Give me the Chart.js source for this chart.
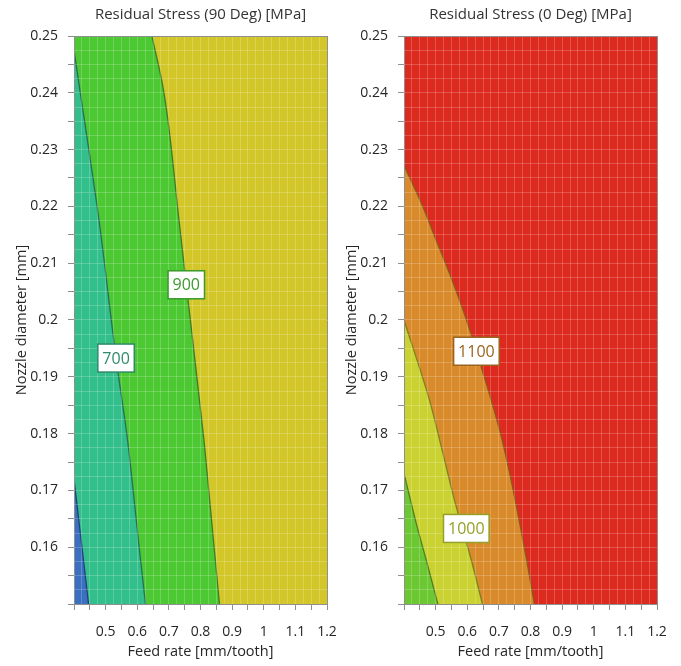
<!DOCTYPE html>
<html>
<head>
<meta charset="utf-8">
<script src="https://cdn.jsdelivr.net/npm/chart.js@4.4.1/dist/chart.umd.min.js"></script>
<style>
    body { margin: 0; background: #fff; }
    #wrap { position: relative; width: 681px; height: 666px; }
    .panel { position: absolute; top: 0; }
    #chart90 { left: 0; }
    #chart0 { left: 330px; }
</style>
</head>
<body>
<div id="wrap">
    <canvas id="chart90" class="panel" width="351" height="666"></canvas>
    <canvas id="chart0" class="panel" width="351" height="666"></canvas>
</div>
<script>
// contour lines: feed rate (x) where the line sits at a given nozzle diameter (y)
// left plot, residual stress 90 deg
const c600Y = [0.15, 0.1577, 0.172];
const c600X = [0.446, 0.430, 0.400];
const c700Y = [0.15, 0.16, 0.17, 0.179, 0.1933, 0.2176, 0.24, 0.2475];
const c700X = [0.626, 0.606, 0.587, 0.569, 0.533, 0.479, 0.420, 0.400];
const c900Y = [0.15, 0.17, 0.1788, 0.2062, 0.2176, 0.24, 0.25];
const c900X = [0.860, 0.826, 0.811, 0.755, 0.732, 0.6845, 0.6465];

// right plot, residual stress 0 deg
const r900Y = [0.15, 0.1577, 0.1642, 0.173];
const r900X = [0.507, 0.4705, 0.4387, 0.400];
const r1000Y = [0.15, 0.1577, 0.1682, 0.177, 0.1858, 0.200];
const r1000X = [0.648, 0.613, 0.560, 0.521, 0.481, 0.400];
const r1100Y = [0.15, 0.1577, 0.1788, 0.1945, 0.2017, 0.2082, 0.214, 0.2199, 0.2272];
const r1100X = [0.812, 0.788, 0.7105, 0.629, 0.587, 0.544, 0.502, 0.460, 0.400];

// contour labels
const leftLabels = ['700', '900'];
const leftLabelX = [0.533, 0.755];
const leftLabelY = [0.1933, 0.2062];
const rightLabels = ['1100', '1000'];
const rightLabelX = [0.629, 0.597];
const rightLabelY = [0.1945, 0.1633];

const xMin = 0.4, xMax = 1.2;
const yMin = 0.15, yMax = 0.25;

Chart.defaults.font.family = '"Open Sans", "Noto Sans", sans-serif';
Chart.defaults.font.size = 14;
Chart.defaults.color = '#262626';

const axisGray = '#8f8f8f';
const meshColor = 'rgba(255,255,255,0.2)';

function tickText(v, step, skip) {
    const n = Math.round(v / step);
    if (Math.abs(v / step - n) > 1e-6 || Math.abs(v - skip) < 1e-9) return '';
    return String(Number(v.toFixed(2)));
}

function toPoints(xs, ys) {
    return ys.map((y, i) => ({x: xs[i], y: y}));
}

// paints the plot area with the colour of the rightmost region
const areaBackground = {
    id: 'areaBackground',
    beforeDraw(chart, args, opts) {
        const a = chart.chartArea;
        chart.ctx.save();
        chart.ctx.fillStyle = opts.color;
        chart.ctx.fillRect(a.left, a.top, a.right - a.left, a.bottom - a.top);
        chart.ctx.restore();
    }
};

// boxed contour level labels
const contourLabels = {
    id: 'contourLabels',
    afterDraw(chart, args, opts) {
        const ctx = chart.ctx;
        const sx = chart.scales.x, sy = chart.scales.y;
        ctx.save();
        ctx.font = '16px "Open Sans", "Noto Sans", sans-serif';
        ctx.textAlign = 'center';
        ctx.textBaseline = 'middle';
        opts.text.forEach((t, i) => {
            const px = sx.getPixelForValue(opts.x[i]);
            const py = sy.getPixelForValue(opts.y[i]);
            const w = ctx.measureText(t).width + 9;
            const h = 28;
            ctx.fillStyle = '#fff';
            ctx.fillRect(px - w / 2, py - h / 2, w, h);
            ctx.strokeStyle = opts.border[i];
            ctx.lineWidth = 1.5;
            ctx.strokeRect(px - w / 2, py - h / 2, w, h);
            ctx.fillStyle = opts.color[i];
            ctx.fillText(t, px, py + 1);
        });
        ctx.restore();
    }
};

function contour(xs, ys, fillColor, lineColor) {
    return {
        data: toPoints(xs, ys),
        backgroundColor: fillColor,
        borderColor: lineColor,
        borderWidth: 1.3,
        pointRadius: 0,
        cubicInterpolationMode: 'monotone',
        // fill towards the left edge of the plot
        fill: {value: xMin}
    };
}

function makePanel(id, title, bg, datasets, labels) {
    return new Chart(document.getElementById(id), {
        type: 'line',
        data: {datasets: datasets},
        plugins: [areaBackground, contourLabels],
        options: {
            indexAxis: 'y',
            responsive: false,
            animation: false,
            layout: {padding: {left: 0, right: 24, top: 0, bottom: 0}},
            scales: {
                x: {
                    type: 'linear', position: 'bottom', min: xMin, max: xMax,
                    ticks: {stepSize: 0.05, padding: 14, autoSkip: false, maxRotation: 0,
                        callback: v => tickText(v, 0.1, xMin)},
                    grid: {drawOnChartArea: false, tickLength: 6, color: axisGray, z: 1},
                    border: {color: axisGray, z: 1},
                    title: {display: true, text: 'Feed rate [mm/tooth]', font: {size: 14.5},
                        padding: {top: 0, bottom: 5}},
                    afterFit: s => { s.height = 62; }
                },
                y: {
                    type: 'linear', position: 'left', min: yMin, max: yMax,
                    ticks: {stepSize: 0.005, padding: 10, autoSkip: false,
                        callback: v => tickText(v, 0.01, yMin)},
                    grid: {drawOnChartArea: false, tickLength: 6, color: axisGray, z: 1},
                    border: {color: axisGray, z: 1},
                    title: {display: true, text: 'Nozzle diameter [mm]', font: {size: 14.5},
                        padding: {top: 13, bottom: 0}},
                    afterFit: s => { s.width = 74; }
                },
                // fine mesh drawn over the filled regions, also gives the top/right frame
                x2: {
                    type: 'linear', position: 'top', min: xMin, max: xMax,
                    ticks: {display: false, stepSize: 0.025},
                    grid: {drawTicks: false, z: 1,
                        color: c => (c.tick && (c.tick.value <= xMin || c.tick.value >= xMax)) ? 'rgba(0,0,0,0)' : meshColor},
                    border: {color: axisGray, z: 2},
                    afterFit: s => { s.height = 0; }
                },
                y2: {
                    type: 'linear', position: 'right', min: yMin, max: yMax,
                    ticks: {display: false, stepSize: 0.0025},
                    grid: {drawTicks: false, z: 1,
                        color: c => (c.tick && (c.tick.value <= yMin || c.tick.value >= yMax)) ? 'rgba(0,0,0,0)' : meshColor},
                    border: {color: axisGray, z: 2},
                    afterFit: s => { s.width = 0; }
                }
            },
            plugins: {
                legend: {display: false},
                tooltip: {enabled: false},
                title: {
                    display: true, text: title, fullSize: false, color: '#333',
                    font: {size: 15, weight: 'normal'},
                    padding: {top: 6, bottom: 12}
                },
                areaBackground: {color: bg},
                contourLabels: labels
            }
        }
    });
}

// dataset 0 is drawn last, so the leftmost region goes first
makePanel('chart90', 'Residual Stress (90 Deg) [MPa]', '#d3c629', [
    contour(c600X, c600Y, '#3b6fc0', '#22407a'),
    contour(c700X, c700Y, '#33bf8b', '#2a6e55'),
    contour(c900X, c900Y, '#4cc832', '#3f7a2a')
], {
    text: leftLabels, x: leftLabelX, y: leftLabelY,
    color: ['#2f8a6a', '#3a9a2c'], border: ['#2f8a6a', '#3a9a2c']
});

makePanel('chart0', 'Residual Stress (0 Deg) [MPa]', '#dd2a1f', [
    contour(r900X, r900Y, '#6cc832', '#4f7f22'),
    contour(r1000X, r1000Y, '#c9d230', '#7f7f1e'),
    contour(r1100X, r1100Y, '#d98a2a', '#8a5a18')
], {
    text: rightLabels, x: rightLabelX, y: rightLabelY,
    color: ['#9a6420', '#96a028'], border: ['#9a6420', '#96a028']
});
</script>
</body>
</html>
